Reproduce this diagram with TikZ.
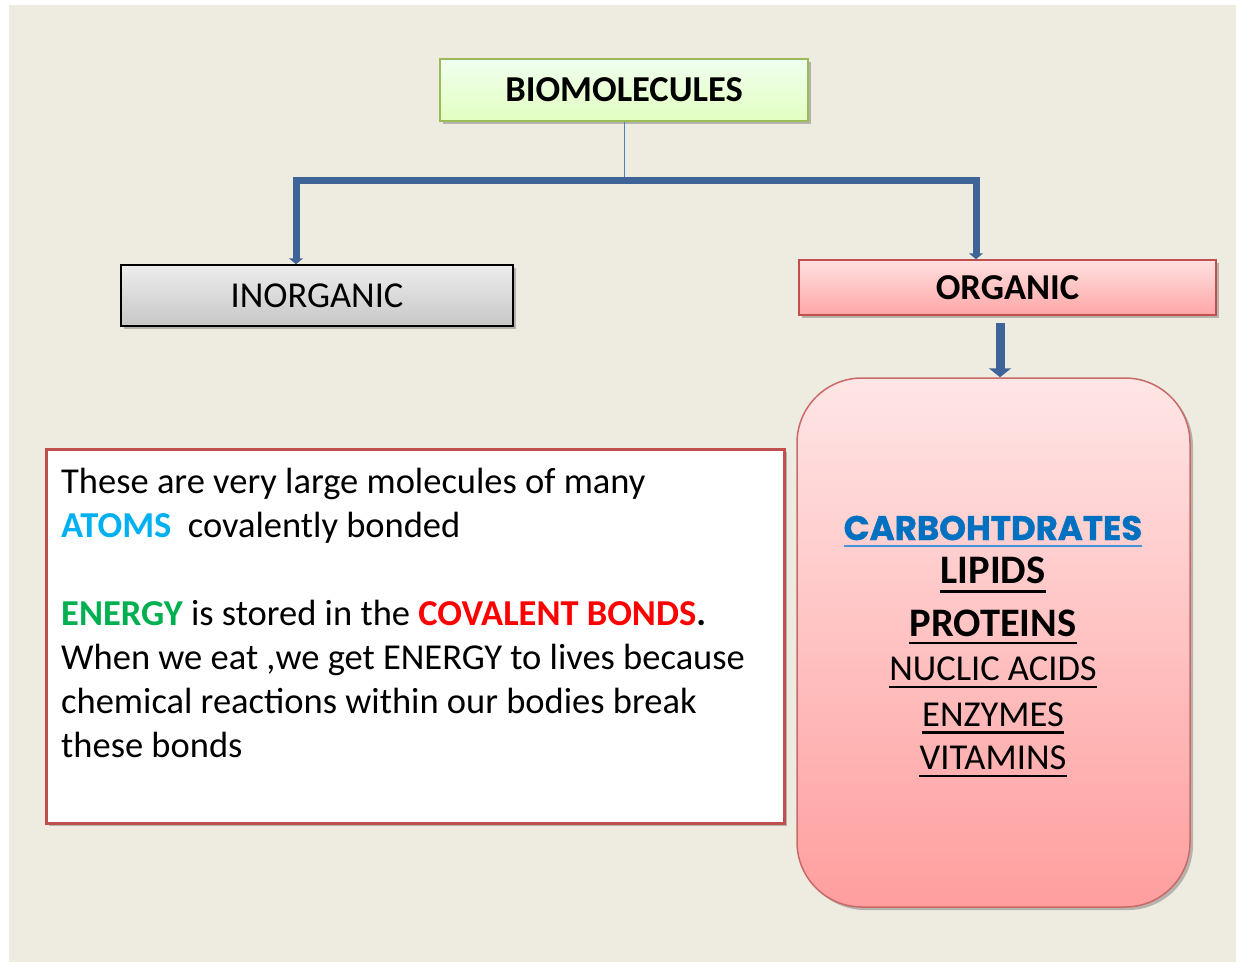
\documentclass[tikz,border=0pt]{standalone}
\usepackage{fontspec}
\setmainfont{Carlito}
\newfontfamily\carbfont{Poppins}[BoldFeatures={FakeBold=1.2}]
\usetikzlibrary{arrows.meta,shadows,calc}
\definecolor{bgc}{HTML}{EEEBE0}
\definecolor{arr}{HTML}{3F6497}
\definecolor{thinb}{HTML}{4F81BD}
\definecolor{grnb}{HTML}{9BBB59}
\definecolor{redb}{HTML}{C0504D}
\definecolor{atomc}{HTML}{00B0F0}
\definecolor{energc}{HTML}{00B050}
\definecolor{covc}{HTML}{FF0000}
\definecolor{carbc}{HTML}{0070C0}
\definecolor{carbu}{HTML}{4A8FD8}
\tikzset{
  shad/.style={drop shadow={shadow xshift=3pt,shadow yshift=-3pt,opacity=.35,fill=black!70}},
  boxtxt/.style={font=\fontsize{36.5}{44}\selectfont},
  biobox/.style={shad,draw=grnb,line width=1.5pt,top color=green!6!white,bottom color=green!45!yellow!25!white,
     minimum width=368pt,minimum height=62pt,inner sep=0pt,boxtxt,font=\fontsize{36.5}{44}\selectfont\bfseries},
  inbox/.style={shad,draw=black,line width=1.5pt,top color=black!7,bottom color=black!22,
     minimum width=392pt,minimum height=61pt,inner sep=0pt,boxtxt},
  orgbox/.style={shad,draw=redb,line width=1.5pt,top color=red!12!white,bottom color=red!35!white,
     minimum width=417pt,minimum height=55pt,inner sep=0pt,font=\fontsize{36.5}{44}\selectfont\bfseries},
  bigbox/.style={shad,draw=redb!85,line width=1.5pt,rounded corners=65pt,top color=red!10!white,bottom color=red!38!white,
     minimum width=393pt,minimum height=529pt,inner sep=0pt},
  txtbox/.style={shad,draw=redb,line width=3pt,fill=white,minimum width=738pt,minimum height=374pt,inner sep=0pt},
  fatarrow/.style={draw=arr,line width=7pt,-{Triangle[width=14pt,length=6pt]}},
  bigarrow/.style={draw=arr,line width=9pt,-{Triangle[width=22pt,length=9pt]}},
  itemb/.style={anchor=base,inner sep=0pt,font=\fontsize{40.5}{44}\selectfont\bfseries},
  itemr/.style={anchor=base,inner sep=0pt,font=\fontsize{36.5}{44}\selectfont},
  uline/.style={line width=2.5pt,black},
}
\begin{document}
\begin{tikzpicture}[x=1pt,y=-1pt]
\useasboundingbox (0,0) rectangle (1236,962);
\fill[white] (0,0) rectangle (1236,962);
\fill[bgc] (9,5) rectangle (1236,962);

\node[biobox] (bio) at (624,90) {BIOMOLECULES};
\node[inbox] (inorg) at (317,295.5) {INORGANIC};
\node[orgbox] (org) at (1007.5,287.5) {ORGANIC};
\node[bigbox] (big) at (993.5,642.5) {};
\node[txtbox] (tb) at (415,636) {};

\coordinate (j) at (624,180);
\coordinate (cl) at (296,180);
\coordinate (cr) at (976,180);
\draw[thinb,line width=1pt] (bio.south) -- (j);
\draw[fatarrow] (j) -- (cl) -- (296,0 |- inorg.north);
\draw[fatarrow] (j) -- (cr) -- (976,0 |- org.north);
\draw[bigarrow] (1000,0 |- org.south) ++(0,7) -- (1000,0 |- big.north);

\node[anchor=north west,inner sep=0pt,align=left,font=\fontsize{36.5}{44}\selectfont] (body) at (61,468)
{These are very large molecules of many\\
{\color{atomc}\bfseries ATOMS}~ covalently bonded\\
\mbox{}\\
{\color{energc}\bfseries ENERGY} is stored in the {\color{covc}\bfseries COVALENT BONDS}{\bfseries .}\\
When we eat ,we get ENERGY to lives because\\
chemical reactions within our bodies break\\
these bonds};

\node[anchor=base,inner sep=0pt,text=carbc,font=\fontsize{34}{44}\carbfont\bfseries] (carb) at (993,540) {CARBOHTDRATES};
\node[itemb] (lip) at (993,583.5) {LIPIDS};
\node[itemb] (pro) at (993,636) {PROTEINS};
\node[itemr] (nuc) at (993,680) {NUCLIC ACIDS};
\node[itemr] (enz) at (993,726.5) {ENZYMES};
\node[itemr] (vit) at (993,769.5) {VITAMINS};

\draw[carbu,line width=1.5pt] ($(carb.base west)+(0,6)$) -- ($(carb.base east)+(0,6)$);
\draw[uline] ($(lip.base west)+(0,8)$) -- ($(lip.base east)+(0,8)$);
\draw[uline] ($(pro.base west)+(0,7)$) -- ($(pro.base east)+(0,7)$);
\draw[uline] ($(nuc.base west)+(0,7)$) -- ($(nuc.base east)+(0,7)$);
\draw[uline] ($(enz.base west)+(0,6)$) -- ($(enz.base east)+(0,6)$);
\draw[uline] ($(vit.base west)+(0,6.5)$) -- ($(vit.base east)+(0,6.5)$);
\end{tikzpicture}
\end{document}
